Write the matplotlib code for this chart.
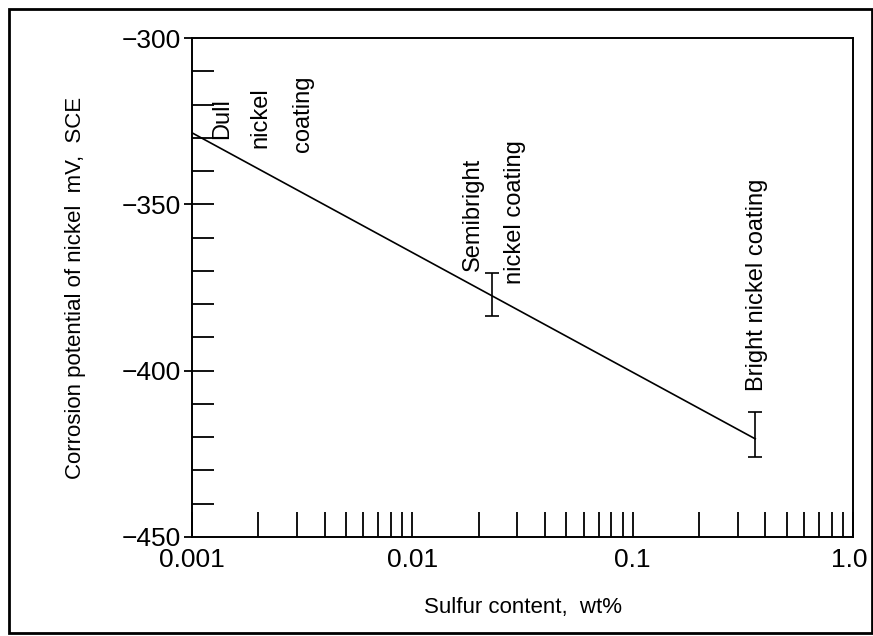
import matplotlib
matplotlib.use("Agg")
import matplotlib.pyplot as plt
import matplotlib.transforms as mtransforms
from matplotlib.ticker import FixedLocator, LogLocator, NullFormatter
from matplotlib.patches import Rectangle
import numpy as np

plt.rcParams['font.family'] = ['Liberation Sans', 'DejaVu Sans']

# ---- data ----
line_x = [0.001, 0.36]            # sulfur content, wt%
line_y = [-328.5, -420.5]         # corrosion potential, mV SCE

bar_x = [0.023, 0.36]             # range bars (semibright, bright)
bar_lo = [-383.5, -426.0]
bar_hi = [-370.5, -412.5]

x_ticks = [0.001, 0.01, 0.1, 1.0]
x_ticklabels = ['0.001', '0.01', '0.1', '1.0']
y_ticks = [-300, -350, -400, -450]
y_minor = [-440, -430, -420, -410, -400, -390, -380, -370, -360, -350,
           -340, -330, -320, -310]

labels = ['Dull', 'nickel', 'coating', 'Semibright', 'nickel coating',
          'Bright nickel coating']
label_x = [0.00137, 0.00204, 0.00319, 0.0189, 0.0292, 0.366]
label_y = [-324.3, -324.0, -322.8, -352.9, -352.3, -374.2]

xlabel = 'Sulfur content,  wt%'
ylabel = 'Corrosion potential of nickel  mV,  SCE'

# ---- figure ----
fig = plt.figure(figsize=(8.73, 6.36), dpi=100)
ax = fig.add_axes([192/873, 1-537/636, (853-192)/873, (537-38)/636])

ax.plot(line_x, line_y, color='black', lw=1.2)

centers = [(lo + hi) / 2 for lo, hi in zip(bar_lo, bar_hi)]
errs = [(hi - lo) / 2 for lo, hi in zip(bar_lo, bar_hi)]
ax.errorbar(bar_x, centers, yerr=errs, fmt='none', ecolor='black',
            elinewidth=1.2, capsize=5, capthick=1.2)

for t, x, y in zip(labels, label_x, label_y):
    ax.text(x, y, t, rotation=90, ha='center', va='center', fontsize=17)

ax.set_xscale('log')
ax.set_xlim(0.001, 1.0)
ax.set_ylim(-450, -300)

ax.xaxis.set_major_locator(FixedLocator(x_ticks))
ax.set_xticklabels(x_ticklabels)
ax.xaxis.set_minor_locator(LogLocator(base=10, subs=np.arange(2, 10)))
ax.xaxis.set_minor_formatter(NullFormatter())

ax.yaxis.set_major_locator(FixedLocator(y_ticks))
ax.yaxis.set_minor_locator(FixedLocator(y_minor))
ax.yaxis.remove_overlapping_locs = False

ax.tick_params(axis='x', which='both', direction='in', length=18, width=1.3,
               labelsize=19, pad=8, top=False)
ax.tick_params(axis='y', which='major', direction='out', length=6, width=1.3,
               labelsize=19, pad=2, right=False)
ax.tick_params(axis='y', which='minor', direction='in', length=16, width=1.3,
               right=False)

# nudge the last x tick label slightly left so it stays inside the frame
last = ax.get_xticklabels()[-1]
last.set_transform(last.get_transform() +
                   mtransforms.ScaledTranslation(-4/100, 0, fig.dpi_scale_trans))

for s in ax.spines.values():
    s.set_linewidth(1.4)

ax.set_xlabel(xlabel, fontsize=16, labelpad=18)
ax.set_ylabel(ylabel, fontsize=16, labelpad=26)

fig.patches.append(Rectangle((9/873, 3/636), (872-9)/873, (627-3)/636,
                             transform=fig.transFigure, fill=False,
                             edgecolor='black', lw=2.0))

fig.savefig('out.png', dpi=100)
